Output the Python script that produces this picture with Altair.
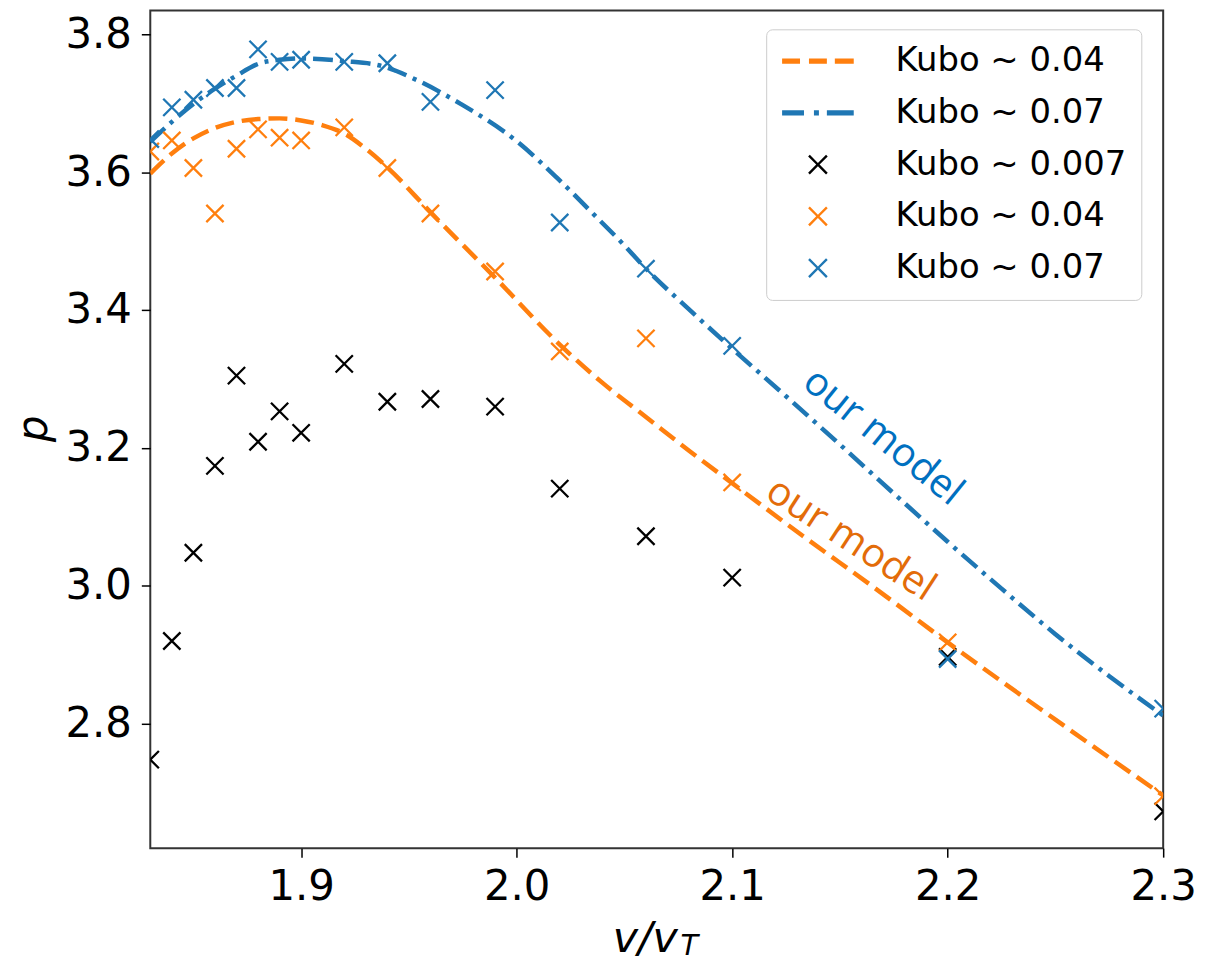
import math
import altair as alt
import pandas as pd

# ---------------- data ----------------
x_obs = [1.83, 1.84, 1.85, 1.86, 1.87, 1.88, 1.89, 1.90, 1.92, 1.94, 1.96, 1.99, 2.02, 2.06, 2.10, 2.20, 2.30]
p_kubo_007 = [2.748, 2.920, 3.048, 3.174, 3.305, 3.209, 3.253, 3.222, 3.322, 3.267, 3.271, 3.260, 3.141, 3.072, 3.012, 2.897, 2.673]
p_kubo_04 = [3.630, 3.646, 3.606, 3.540, 3.634, 3.662, 3.650, 3.646, 3.665, 3.606, 3.540, 3.456, 3.340, 3.359, 3.150, 2.918, 2.695]
p_kubo_07 = [3.648, 3.694, 3.705, 3.722, 3.722, 3.778, 3.760, 3.763, 3.760, 3.758, 3.702, 3.719, 3.527, 3.460, 3.348, 2.894, 2.822]

x_model_04 = [1.83, 1.84, 1.85, 1.86, 1.87, 1.88, 1.89, 1.90, 1.91, 1.92, 1.93, 1.94, 1.96, 1.99,
              2.02, 2.04, 2.06, 2.08, 2.10, 2.133, 2.167, 2.20, 2.25, 2.30]
p_model_04 = [3.598, 3.627, 3.649, 3.664, 3.673, 3.677, 3.678, 3.675, 3.668, 3.656, 3.634, 3.607, 3.542, 3.447,
              3.350, 3.294, 3.245, 3.196, 3.149, 3.072, 2.995, 2.918, 2.806, 2.696]

x_model_07 = [1.83, 1.84, 1.85, 1.86, 1.87, 1.88, 1.89, 1.90, 1.92, 1.936, 1.954, 1.974, 2.00, 2.019,
              2.036, 2.049, 2.06, 2.08, 2.10, 2.125, 2.15, 2.175, 2.20, 2.225, 2.25, 2.275, 2.30]
p_model_07 = [3.644, 3.673, 3.699, 3.721, 3.740, 3.757, 3.763, 3.765, 3.761, 3.755, 3.733, 3.699, 3.645, 3.591,
              3.538, 3.497, 3.460, 3.401, 3.344, 3.275, 3.205, 3.134, 3.064, 2.996, 2.930, 2.869, 2.812]

legend_keys = ["Kubo ~ 0.04 (model)", "Kubo ~ 0.07 (model)", "Kubo ~ 0.007", "Kubo ~ 0.04", "Kubo ~ 0.07"]

ann_text = ["our model", "our model"]
ann_x = [2.170, 2.155]
ann_y = [3.216, 3.067]

x_ticks = [1.9, 2.0, 2.1, 2.2, 2.3]
y_ticks = [2.8, 3.0, 3.2, 3.4, 3.6, 3.8]

# ---------------- styles ----------------
ORANGE = "#ff7f0e"
BLUE = "#1f77b4"
BLACK = "#000000"
FONT = "DejaVu Sans"
X_PATH = "M -1 -1 L 1 1 M -1 1 L 1 -1"


def rect(x0, x1, h):
    return f"M {x0} {-h} L {x1} {-h} L {x1} {h} L {x0} {h} Z "


def cross_poly(cx, a, w):
    L = a * math.sqrt(2)
    uv = [(L, w), (w, w), (w, L), (-w, L), (-w, w), (-L, w), (-L, -w), (-w, -w), (-w, -L), (w, -L), (w, -w), (L, -w)]
    pts = [((u - v) / math.sqrt(2) + cx, (u + v) / math.sqrt(2)) for u, v in uv]
    return "M " + " L ".join(f"{x:.4f} {y:.4f}" for x, y in pts) + " Z"


h = 0.16
leg_orange = rect(-1.0, 0.125, h) + rect(0.6875, 1.8125, h) + rect(2.3125, 3.5, h)
leg_blue = rect(-1.0, 0.375, h) + rect(1.0, 1.3125, h) + rect(1.8125, 3.5, h)
leg_x = cross_poly(1.25, 0.5625, 0.075)

W, H = 1018, 842
xscale = alt.Scale(domain=[1.83, 2.3], nice=False, zero=False)
yscale = alt.Scale(domain=[2.6196, 3.8346], nice=False, zero=False)

xaxis = alt.Axis(values=x_ticks, format=".1f", title="v/v", labelFlush=False, labelOverlap=False,
                 titleX=497, titleY=104, titleAlign="center", titleBaseline="alphabetic",
                 titleFontStyle="italic", titleFontSize=43, titleFontWeight="normal")
yaxis = alt.Axis(values=y_ticks, format=".1f", title="p", labelFlush=False, labelOverlap=False,
                 titleX=-104, titleY=420, titleAngle=270, titleAlign="center", titleBaseline="alphabetic",
                 titleFontStyle="italic", titleFontSize=42, titleFontWeight="normal")

obs = pd.DataFrame({"x": x_obs, "k007": p_kubo_007, "k04": p_kubo_04, "k07": p_kubo_07})
m04 = pd.DataFrame({"x": x_model_04, "p": p_model_04})
m07 = pd.DataFrame({"x": x_model_07, "p": p_model_07})

line04 = alt.Chart(m04).mark_line(color=ORANGE, strokeWidth=4.5, strokeDash=[19, 8], clip=True,
                                  interpolate="monotone").encode(
    x=alt.X("x:Q", scale=xscale, axis=xaxis), y=alt.Y("p:Q", scale=yscale, axis=yaxis))
line07 = alt.Chart(m07).mark_line(color=BLUE, strokeWidth=4.5, strokeDash=[20, 7, 4, 7], clip=True,
                                  interpolate="monotone").encode(
    x=alt.X("x:Q", scale=xscale), y=alt.Y("p:Q", scale=yscale))


def pts(col, color):
    return alt.Chart(obs).mark_point(shape=X_PATH, size=300, filled=False, stroke=color, strokeWidth=2.3,
                                     opacity=1, clip=True).encode(
        x=alt.X("x:Q", scale=xscale), y=alt.Y(f"{col}:Q", scale=yscale))


pts007 = pts("k007", BLACK)
pts04 = pts("k04", ORANGE)
pts07 = pts("k07", BLUE)

leg = alt.Legend(title=None, orient="none", legendX=619, legendY=19, padding=15,
                 strokeColor="#cccccc", fillColor="white", cornerRadius=6, rowPadding=18,
                 labelOffset=81, symbolSize=1024, symbolStrokeWidth=0, labelFont=FONT,
                 labelFontSize=34, labelColor="black", labelLimit=600,
                 labelExpr="replace(datum.label, ' (model)', '')")

legend_layer = alt.Chart(pd.DataFrame({"key": legend_keys})).transform_filter("false").mark_point(
    filled=True, opacity=1, size=1024).encode(
    color=alt.Color("key:N", scale=alt.Scale(domain=legend_keys, range=[ORANGE, BLUE, BLACK, ORANGE, BLUE]),
                    legend=leg),
    shape=alt.Shape("key:N", scale=alt.Scale(domain=legend_keys, range=[leg_orange, leg_blue, leg_x, leg_x, leg_x]),
                    legend=leg),
)

ann = pd.DataFrame({"t": ann_text, "x": ann_x, "y": ann_y})
ann_blue = alt.Chart(ann.iloc[[0]]).mark_text(font="Open Sans", fontSize=40, angle=39, color="#0070C0",
                                              align="center", baseline="middle").encode(
    x=alt.X("x:Q", scale=xscale), y=alt.Y("y:Q", scale=yscale), text="t:N")
ann_orange = alt.Chart(ann.iloc[[1]]).mark_text(font="Open Sans", fontSize=40, angle=33, color="#E36C09",
                                                align="center", baseline="middle").encode(
    x=alt.X("x:Q", scale=xscale), y=alt.Y("y:Q", scale=yscale), text="t:N")

sub_t = alt.Chart(pd.DataFrame({"s": ["T"]})).mark_text(font=FONT, fontSize=29, fontStyle="italic",
                                                      align="left", baseline="alphabetic", color="black").encode(
    x=alt.value(533), y=alt.value(949), text="s:N")

chart = alt.layer(line04, line07, pts007, pts04, pts07, legend_layer, ann_blue, ann_orange, sub_t).properties(
    width=W, height=H,
    padding={"left": 143, "top": 0, "right": 36, "bottom": 114},
    autosize=alt.AutoSizeParams(type="none"),
    background="white",
).configure_view(stroke="#333333", strokeWidth=2).configure_axis(
    grid=False, domain=False, tickColor="black", tickWidth=1.5, tickSize=9,
    labelFont=FONT, labelFontSize=42, labelColor="black", labelPadding=10,
    titleFont=FONT, titleColor="black",
)

chart.save("out.html", embed_options={"renderer": "svg", "actions": False})
